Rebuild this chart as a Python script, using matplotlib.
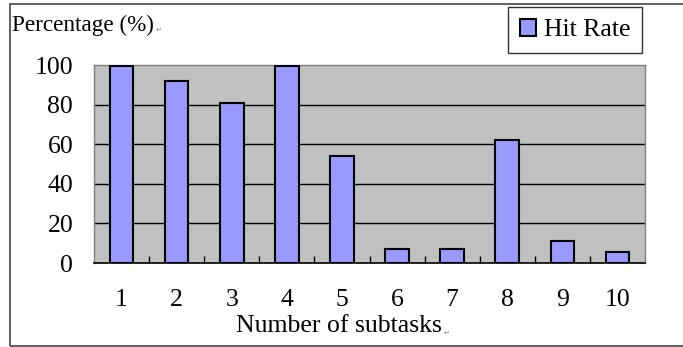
import numpy as np
import matplotlib
matplotlib.use('Agg')
import matplotlib.pyplot as plt
from matplotlib.patches import Rectangle

# data
subtasks = ['1', '2', '3', '4', '5', '6', '7', '8', '9', '10']
hitRate = [99.5, 92, 81, 99.5, 54, 7, 7, 62, 11, 5.5]
yTicks = [0, 20, 40, 60, 80, 100]

plt.rcParams['font.family'] = ['Liberation Serif', 'DejaVu Sans']

fig = plt.figure(figsize=(6.83, 3.47), dpi=100)
W, H = 683.0, 347.0

# outer frame of the word-pasted chart (right side cut off)
fig.patches.append(Rectangle((10 / W, 1 - 346 / H), 1.0, (346 - 4) / H,
                             transform=fig.transFigure, fill=False,
                             edgecolor='#444444', linewidth=1.2))

ax = fig.add_axes([94 / W, 1 - 263 / H, (645 - 94) / W, (263 - 65) / H])
ax.set_facecolor('#c0c0c0')

x = np.arange(len(subtasks))
ax.bar(x, hitRate, width=0.43, color='#9999ff', edgecolor='black',
       linewidth=1.5, label='Hit Rate', zorder=3)

ax.set_xlim(-0.5, len(subtasks) - 0.5)
ax.set_ylim(0, 100)
ax.set_yticks(yTicks)
ax.set_yticklabels([str(v) for v in yTicks], fontsize=18.5)
ax.set_xticks(x)
ax.set_xticklabels(subtasks, fontsize=18.5)
ax.set_xticks(x[:-1] + 0.5, minor=True)

ax.tick_params(axis='y', length=0, pad=15)
ax.tick_params(axis='x', which='major', length=0, pad=19)
ax.tick_params(axis='x', which='minor', direction='in', length=5,
               width=1, color='black')

for v in yTicks[1:-1]:
    ax.axhline(v, color='black', linewidth=1, zorder=1)

for s in ['top', 'right', 'left']:
    ax.spines[s].set_color('#808080')
    ax.spines[s].set_linewidth(1)
ax.spines['bottom'].set_color('black')
ax.spines['bottom'].set_linewidth(1.2)
ax.spines['bottom'].set_zorder(4)

fig.text(12 / W, 1 - 25 / H, 'Percentage (%)', fontsize=16.7, va='center', ha='left')
fig.text(156 / W, 1 - 30 / H, '\u21b5', fontsize=5, color='#888888',
         va='center', ha='left', family='DejaVu Sans')
fig.text(339 / W, 1 - 326 / H, 'Number of subtasks', fontsize=18.5,
         va='center', ha='center')
fig.text(444 / W, 1 - 333 / H, '\u21b5', fontsize=5, color='#888888',
         va='center', ha='left', family='DejaVu Sans')

leg = ax.legend(loc='upper right', bbox_to_anchor=(642 / W, 1 - 7 / H),
                bbox_transform=fig.transFigure, fontsize=18.5, frameon=True,
                fancybox=False, edgecolor='black', handlelength=0.65,
                handleheight=0.65, handletextpad=0.3, borderpad=0.45,
                borderaxespad=0)
leg.get_frame().set_linewidth(1)

fig.savefig('out.png', dpi=100)
